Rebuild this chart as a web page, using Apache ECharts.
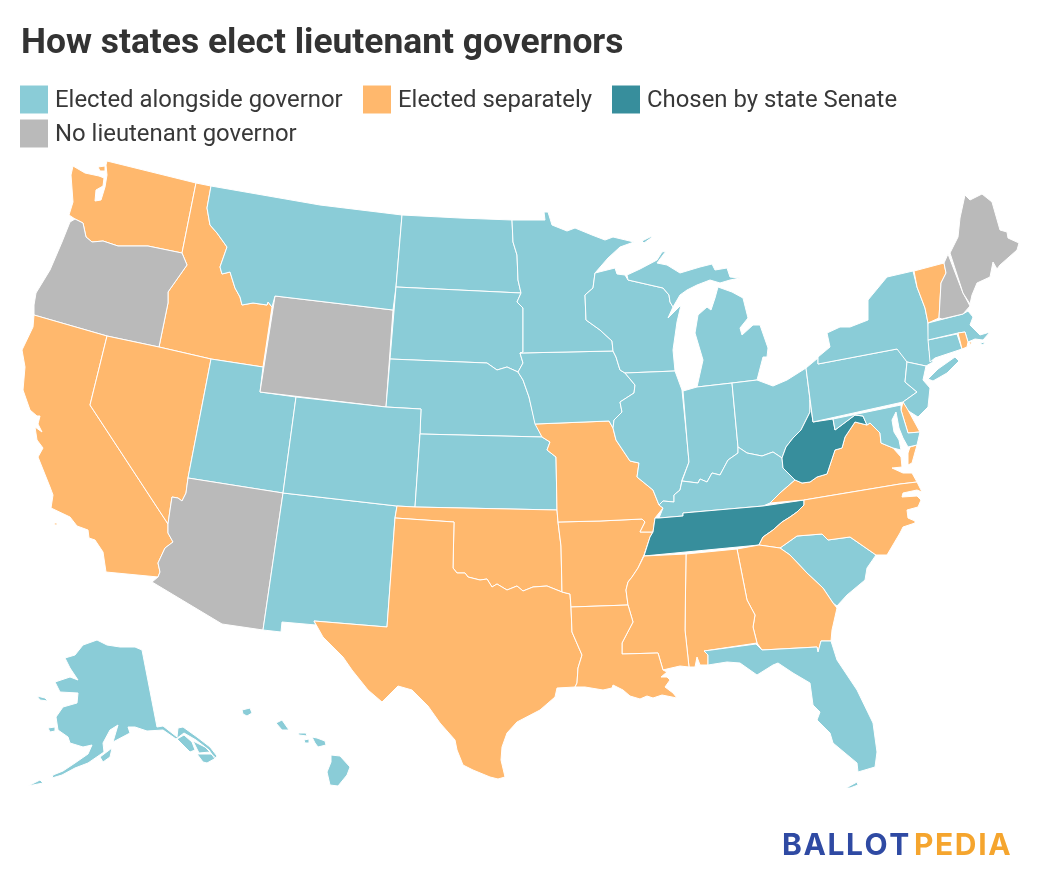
<!DOCTYPE html>
<html>
<head>
<meta charset="utf-8">
<title>How states elect lieutenant governors</title>
<script src="https://cdn.jsdelivr.net/npm/echarts@6/dist/echarts.min.js"></script>
<style>
  html, body { margin: 0; padding: 0; background: #fff; }
  #chart { width: 1040px; height: 892px; }
</style>
</head>
<body>
<div id="chart"></div>
<script>
var titleText = 'How states elect lieutenant governors';
var legendLabels = ['Elected alongside governor', 'Elected separately', 'Chosen by state Senate', 'No lieutenant governor'];
var legendColors = ['#8accd7', '#ffb86d', '#378e9c', '#bababa'];

var electedAlongside = ['Montana', 'North Dakota', 'South Dakota', 'Nebraska', 'Kansas', 'Colorado', 'Utah', 'New Mexico',
  'Minnesota', 'Wisconsin', 'Iowa', 'Illinois', 'Michigan', 'Indiana', 'Ohio', 'Kentucky', 'Pennsylvania', 'New York',
  'New Jersey', 'Maryland', 'Connecticut', 'Massachusetts', 'South Carolina', 'Florida', 'Alaska', 'Hawaii'];
var electedSeparately = ['Washington', 'Idaho', 'California', 'Nevada', 'Texas', 'Oklahoma', 'Missouri', 'Arkansas',
  'Louisiana', 'Mississippi', 'Alabama', 'Georgia', 'North Carolina', 'Virginia', 'Vermont', 'Delaware', 'Rhode Island'];
var chosenBySenate = ['Tennessee', 'West Virginia'];
var noLieutenantGovernor = ['Oregon', 'Wyoming', 'Arizona', 'Maine', 'New Hampshire'];

// base map, traced outlines of the states (page pixels), one list per land mass
var stateShapes = {
  'Washington': [
    [[73,166],[85,173],[99,176],[104,178],[103,186],[96,190],[95,201],[101,200],[105,187],[107,175],[106,165],[107,161],[196,183],[182,253],[148,246],[133,246],[118,246],[103,241],[92,242],[86,237],[83,223],[75,219],[69,215],[73,202],[71,175]],
    [[98,167],[105,166],[105,171],[100,171]]
  ],
  'Idaho': [[[196,183],[211,186],[207,208],[210,225],[217,233],[227,247],[220,267],[222,274],[230,272],[235,288],[240,297],[242,305],[253,303],[267,305],[268,302],[272,307],[263,367],[211,359],[159,347],[168,303],[168,292],[187,265],[182,253]]],
  'Oregon': [[[70,222],[75,219],[83,223],[86,237],[92,242],[103,241],[118,246],[133,246],[148,246],[182,253],[187,265],[168,292],[168,303],[159,347],[107,336],[34,315],[34,305],[36,293],[50,270],[62,242]]],
  'California': [
    [[34,315],[107,336],[90,405],[168,524],[168,533],[173,542],[165,548],[158,563],[160,572],[158,577],[106,572],[103,552],[95,540],[89,538],[88,530],[77,526],[70,517],[51,508],[53,495],[50,487],[38,457],[43,448],[37,440],[35,427],[42,432],[38,424],[40,416],[37,416],[30,410],[23,390],[25,367],[22,350],[33,327]],
    [[54,523],[57,523],[57,525],[55,525]]
  ],
  'Nevada': [[[107,336],[159,347],[211,359],[188,478],[186,493],[182,501],[178,498],[172,497],[170,510],[168,524],[90,405]]],
  'Utah': [[[211,359],[263,367],[260,392],[296,397],[283,493],[188,478]]],
  'Arizona': [[[188,478],[283,493],[263,630],[222,624],[152,582],[158,577],[160,572],[158,563],[165,548],[173,542],[168,533],[168,524],[170,510],[172,497],[178,498],[182,501],[186,493]]],
  'New Mexico': [[[283,493],[397,506],[395,518],[387,627],[314,621],[316,625],[282,622],[281,632],[263,630]]],
  'Wyoming': [[[275,296],[393,310],[386,407],[260,392]]],
  'Montana': [[[211,186],[320,205],[402,215],[396,287],[393,310],[275,296],[272,307],[268,302],[267,305],[253,303],[242,305],[240,297],[235,288],[230,272],[222,274],[220,267],[227,247],[217,233],[210,225],[207,208]]],
  'North Dakota': [[[402,215],[460,218],[512,220],[513,242],[517,255],[518,280],[521,293],[396,287]]],
  'South Dakota': [[[396,287],[521,293],[517,302],[523,308],[523,352],[520,353],[523,363],[518,372],[507,367],[497,370],[487,363],[390,359]]],
  'Nebraska': [[[390,359],[487,363],[497,370],[507,367],[518,372],[523,380],[529,397],[535,422],[542,437],[420,434],[421,409],[386,407]]],
  'Colorado': [[[296,397],[386,407],[421,409],[420,434],[415,507],[397,506],[283,493]]],
  'Kansas': [[[420,434],[542,437],[550,442],[547,450],[556,457],[557,510],[415,507]]],
  'Oklahoma': [[[397,506],[415,507],[557,510],[558,522],[561,546],[562,592],[547,586],[533,587],[523,591],[517,586],[507,590],[497,584],[492,587],[487,579],[480,580],[468,577],[465,573],[457,573],[453,568],[454,522],[395,518]]],
  'Texas': [[[395,518],[454,522],[453,568],[457,573],[465,573],[468,577],[480,580],[487,579],[492,587],[497,584],[507,590],[517,586],[523,591],[533,587],[547,586],[562,592],[570,594],[571,607],[572,632],[582,655],[578,668],[577,683],[575,687],[557,688],[555,697],[540,710],[517,722],[507,733],[502,747],[501,760],[505,777],[498,779],[490,777],[473,770],[463,765],[457,750],[455,740],[440,723],[428,706],[412,690],[398,686],[382,702],[368,690],[352,670],[343,657],[323,637],[314,621],[387,627]]],
  'Arkansas': [[[558,522],[600,521],[642,519],[645,522],[640,532],[653,532],[650,537],[644,555],[638,568],[632,577],[628,582],[626,590],[628,605],[571,607],[570,594],[562,592],[561,546]]],
  'Missouri': [[[535,424],[560,423],[609,421],[613,428],[616,440],[630,461],[639,463],[637,477],[653,490],[659,505],[663,508],[655,518],[653,532],[640,532],[645,522],[642,519],[600,521],[558,522],[557,510],[556,457],[547,450],[550,442],[542,437]]],
  'Iowa': [[[520,353],[613,351],[616,357],[620,370],[625,373],[635,385],[634,393],[620,402],[622,412],[614,420],[613,428],[609,421],[560,423],[535,424],[529,397],[523,380],[518,372],[523,363]]],
  'Minnesota': [[[512,220],[545,220],[544,212],[548,212],[552,225],[567,231],[575,228],[592,235],[605,240],[613,237],[634,242],[620,247],[608,258],[595,273],[593,288],[585,295],[586,320],[600,330],[612,341],[613,351],[520,353],[523,352],[523,308],[517,302],[521,293],[518,280],[517,255],[513,242]]],
  'Wisconsin': [[[595,273],[615,268],[617,274],[625,275],[628,280],[663,288],[669,295],[670,302],[673,307],[668,318],[681,305],[677,322],[673,350],[675,371],[625,373],[620,370],[616,357],[613,351],[612,341],[600,330],[586,320],[585,295],[593,288]]],
  'Michigan': [
    [[627,275],[640,269],[657,260],[662,252],[666,251],[657,263],[667,265],[680,273],[700,267],[712,264],[715,270],[727,268],[730,277],[740,278],[730,280],[720,283],[710,280],[697,285],[687,290],[680,295],[673,307],[670,302],[669,295],[663,288],[628,280]],
    [[718,287],[732,292],[743,298],[748,318],[740,328],[742,335],[753,325],[760,325],[768,348],[767,357],[763,357],[757,380],[732,383],[697,387],[703,360],[695,333],[698,315],[707,307],[711,310],[715,298]],
    [[642,241],[652,236],[651,238],[644,243]]
  ],
  'Illinois': [[[625,373],[675,371],[682,390],[683,391],[687,440],[689,462],[682,480],[680,490],[674,495],[674,502],[663,501],[659,505],[653,490],[637,477],[639,463],[630,461],[616,440],[613,428],[614,420],[622,412],[620,402],[634,393],[635,385]]],
  'Indiana': [[[683,391],[697,387],[732,383],[738,447],[738,453],[728,460],[720,475],[712,473],[707,482],[700,479],[698,483],[682,481],[689,462],[687,440]]],
  'Ohio': [[[732,383],[757,380],[773,386],[787,380],[806,368],[810,400],[810,412],[801,430],[793,438],[786,447],[782,458],[773,452],[762,456],[747,453],[738,447]]],
  'Kentucky': [[[738,447],[747,453],[762,456],[773,452],[782,458],[783,468],[795,480],[780,493],[770,503],[763,506],[683,513],[683,516],[659,518],[663,508],[659,505],[663,501],[674,502],[674,495],[680,490],[682,481],[698,483],[700,479],[707,482],[712,473],[720,475],[728,460],[738,453]]],
  'Tennessee': [[[655,518],[659,518],[683,516],[683,513],[763,506],[804,500],[804,505],[797,512],[790,517],[782,522],[773,530],[763,537],[759,545],[644,556],[650,537],[653,532]]],
  'Virginia': [
    [[770,503],[780,493],[795,480],[802,483],[810,482],[817,477],[827,474],[835,450],[842,448],[845,437],[855,422],[867,425],[870,423],[880,433],[881,443],[893,448],[901,457],[902,467],[892,468],[903,473],[912,473],[917,482],[900,484],[804,500]],
    [[910,447],[917,445],[912,463],[908,465],[908,453]]
  ],
  'West Virginia': [[[810,400],[813,422],[833,419],[835,430],[847,421],[855,415],[863,416],[867,425],[855,422],[845,437],[842,448],[835,450],[827,474],[817,477],[810,482],[802,483],[795,480],[783,468],[782,458],[786,447],[793,438],[801,430],[810,412]]],
  'Pennsylvania': [[[806,368],[818,358],[818,364],[897,349],[903,354],[907,362],[905,382],[917,392],[903,402],[813,422]]],
  'New York': [
    [[818,357],[830,347],[827,333],[840,327],[850,327],[868,320],[868,300],[887,277],[913,271],[917,287],[925,308],[928,323],[929,350],[933,362],[926,366],[907,362],[897,349],[818,364]],
    [[928,379],[938,369],[955,357],[959,361],[947,373],[933,381]]
  ],
  'New Jersey': [[[907,362],[926,366],[923,380],[930,388],[928,407],[918,417],[907,410],[903,402],[917,392],[905,382]]],
  'Delaware': [[[903,402],[908,410],[920,432],[908,433],[901,410]]],
  'Maryland': [[[833,419],[901,405],[901,410],[908,433],[920,432],[917,445],[908,447],[903,438],[899,428],[896,412],[892,420],[894,432],[899,440],[901,450],[893,448],[881,443],[880,433],[870,423],[867,425],[863,416],[855,415],[847,421],[835,430]]],
  'Connecticut': [[[928,340],[957,334],[962,349],[935,358],[930,362],[929,350]]],
  'Massachusetts': [
    [[928,323],[963,314],[968,311],[973,317],[970,325],[980,335],[990,332],[983,340],[975,339],[968,342],[965,332],[958,333],[928,340]],
    [[980,343],[985,342],[983,345]]
  ],
  'Rhode Island': [
    [[958,333],[965,332],[968,342],[967,347],[962,349]],
    [[969,342],[972,342],[970,345]]
  ],
  'Vermont': [[[914,271],[944,263],[946,273],[941,283],[939,318],[928,323],[925,308],[917,287]]],
  'New Hampshire': [[[944,263],[948,254],[963,293],[970,306],[963,314],[942,319],[939,318],[941,283],[946,273]]],
  'Maine': [[[950,253],[958,237],[960,218],[965,195],[970,200],[982,194],[992,202],[1000,230],[1007,232],[1008,238],[1019,243],[1017,250],[1000,265],[997,269],[993,262],[990,277],[977,283],[972,295],[970,304],[963,293]]],
  'South Carolina': [[[780,548],[797,536],[822,534],[828,540],[850,537],[876,555],[867,568],[865,580],[847,595],[837,606],[833,603],[823,588],[807,573],[790,555]]],
  'North Carolina': [[[804,500],[900,484],[917,482],[922,492],[917,490],[903,493],[902,497],[917,496],[921,500],[918,507],[907,510],[908,518],[915,521],[915,523],[903,527],[900,533],[887,555],[876,555],[850,537],[828,540],[822,534],[797,536],[780,548],[759,545],[763,537],[773,530],[782,522],[790,517],[797,512],[804,505]]],
  'Georgia': [[[737,549],[759,545],[780,548],[790,555],[807,573],[823,588],[833,603],[837,608],[832,630],[831,641],[821,641],[818,652],[817,647],[762,650],[757,643],[753,627],[755,615],[747,600]]],
  'Alabama': [[[686,554],[737,549],[747,600],[755,615],[753,627],[757,643],[704,651],[708,655],[708,665],[700,665],[697,657],[695,667],[689,667],[685,630]]],
  'Mississippi': [[[644,556],[686,554],[685,630],[689,667],[680,666],[667,669],[663,670],[658,653],[622,654],[622,643],[633,622],[628,605],[626,590],[628,582],[632,577],[638,568]]],
  'Louisiana': [[[571,607],[628,605],[633,622],[622,643],[622,654],[658,653],[663,670],[667,672],[661,677],[667,677],[670,680],[665,687],[673,693],[677,698],[672,697],[662,695],[653,698],[647,696],[640,699],[630,696],[623,690],[613,685],[612,688],[603,690],[585,687],[575,687],[577,683],[578,668],[582,655],[572,632]]],
  'Florida': [
    [[704,651],[756,644],[762,650],[817,647],[818,652],[821,641],[831,641],[837,660],[857,690],[873,723],[877,752],[875,767],[858,772],[857,763],[833,743],[830,733],[817,720],[820,712],[813,705],[810,683],[793,673],[778,663],[773,665],[757,675],[740,663],[727,662],[708,665],[708,655]],
    [[846,788],[857,782],[858,785],[850,788]]
  ],
  'Alaska': [
    [[97,640],[107,645],[120,647],[135,647],[142,650],[157,727],[163,726],[177,737],[178,728],[183,727],[197,737],[210,747],[217,756],[215,759],[209,750],[196,740],[184,733],[176,739],[163,730],[147,731],[135,727],[128,727],[130,733],[113,742],[118,725],[110,730],[103,743],[104,752],[88,763],[75,768],[62,775],[52,778],[53,775],[63,771],[75,763],[88,754],[92,745],[83,747],[70,743],[68,737],[58,730],[56,717],[63,707],[77,703],[78,693],[60,692],[55,682],[70,677],[78,680],[70,668],[65,658],[75,655],[83,645]],
    [[177,739],[184,735],[192,742],[195,750],[190,752],[183,745]],
    [[193,741],[205,747],[210,752],[199,753],[197,749]],
    [[197,754],[211,754],[216,758],[207,763],[203,762]],
    [[100,757],[112,748],[110,757],[103,762]],
    [[37,696],[45,698],[48,701],[47,702],[40,700]],
    [[48,728],[55,727],[55,731],[50,732]],
    [[28,786],[40,780],[43,783],[33,785]]
  ],
  'Hawaii': [
    [[242,710],[250,708],[252,713],[247,716],[243,714]],
    [[276,723],[282,720],[289,730],[282,730]],
    [[298,733],[306,733],[307,736],[299,735]],
    [[304,740],[309,739],[309,743],[305,743]],
    [[312,737],[317,738],[325,741],[326,745],[318,747],[315,743]],
    [[331,755],[340,756],[350,767],[347,775],[338,786],[330,785],[327,772],[331,762]]
  ]
};

var groups = [electedAlongside, electedSeparately, chosenBySenate, noLieutenantGovernor];

var features = Object.keys(stateShapes).map(function each(name) {
  return {
    type: 'Feature',
    properties: { name: name },
    geometry: {
      type: 'MultiPolygon',
      coordinates: stateShapes[name].map(function wrap(ring) { return [ring]; })
    }
  };
});
echarts.registerMap('usStates', { type: 'FeatureCollection', features: features });

var mapData = [];
groups.forEach(function each(group, idx) {
  group.forEach(function eachState(name) {
    mapData.push({ name: name, value: idx, itemStyle: { areaColor: legendColors[idx] } });
  });
});

// legend rows sit in fixed places like the original
var legendPos = [[20, 86], [363, 86], [612, 86], [20, 120]];
var legendGraphic = [];
legendLabels.forEach(function each(label, i) {
  legendGraphic.push({
    type: 'rect',
    shape: { x: legendPos[i][0], y: legendPos[i][1] - 0.5, width: 28, height: 28 },
    style: { fill: legendColors[i] },
    silent: true
  });
  legendGraphic.push({
    type: 'text',
    x: legendPos[i][0] + 35,
    y: legendPos[i][1] + 15,
    style: { text: label, fill: '#383838', font: '400 23.9px Roboto', textVerticalAlign: 'middle' },
    silent: true
  });
});

// the wordmark is spaced out by hand, canvas text has no letter spacing
function logoLetters(word, startX, color, spacing) {
  var font = '700 30px Inter';
  var ctx = document.createElement('canvas').getContext('2d');
  var x = startX;
  ctx.font = font;
  return word.split('').map(function each(letter) {
    var item = {
      type: 'text', x: x, y: 846, silent: true,
      style: { text: letter, fill: color, font: font, textVerticalAlign: 'middle' }
    };
    x += ctx.measureText(letter).width + spacing;
    return item;
  });
}

var myChart = echarts.init(document.getElementById('chart'), null, { renderer: 'canvas' });
myChart.setOption({
  animation: false,
  backgroundColor: '#fff',
  title: {
    text: titleText,
    left: 16,
    top: 22,
    textStyle: { fontFamily: 'Roboto', fontSize: 35.4, fontWeight: 700, color: '#333' }
  },
  tooltip: { show: false },
  series: [{
    type: 'map',
    map: 'usStates',
    projection: {
      project: function project(p) { return p; },
      unproject: function unproject(p) { return p; }
    },
    boundingCoords: [[0, 0], [1040, 892]],
    left: 0,
    top: 0,
    width: 1040,
    height: 892,
    silent: true,
    label: { show: false },
    emphasis: { disabled: true },
    select: { disabled: true },
    itemStyle: { borderColor: '#fff', borderWidth: 1, areaColor: '#bababa' },
    data: mapData
  }],
  graphic: legendGraphic
    .concat(logoLetters('BALLOT', 782, '#2f4aa3', 1.6))
    .concat(logoLetters('PEDIA', 914, '#f5a52e', 1.6))
});
window.onresize = myChart.resize;
</script>
</body>
</html>
